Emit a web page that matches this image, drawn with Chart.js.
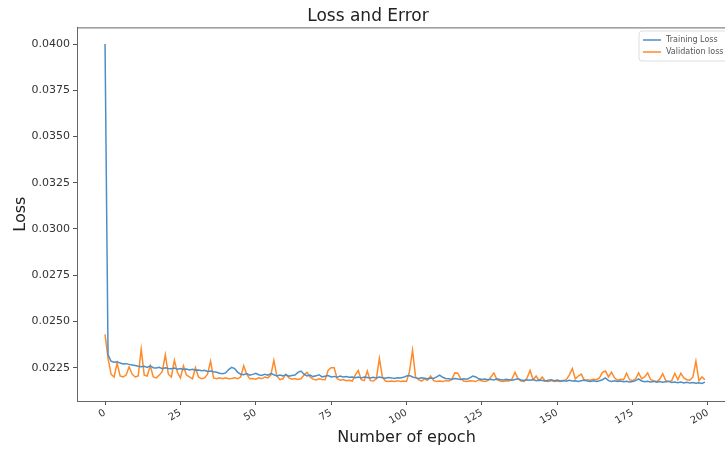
<!DOCTYPE html>
<html>
<head>
<meta charset="utf-8">
<script src="https://cdn.jsdelivr.net/npm/chart.js@4/dist/chart.umd.min.js"></script>
<style>
  body { margin: 0; background: #fff; overflow: hidden; }
  #wrap { width: 745px; height: 449px; }
</style>
</head>
<body>
<div id="wrap"><canvas id="lossChart"></canvas></div>
<script>
// Data
const xTicks = [0, 25, 50, 75, 100, 125, 150, 175, 200];
const yTicks = [0.0225, 0.0250, 0.0275, 0.0300, 0.0325, 0.0350, 0.0375, 0.0400];

const trainingLoss = [
  0.0400, 0.0232, 0.02285, 0.02280, 0.02282, 0.02275, 0.02270, 0.02272, 0.02268, 0.02265,
  0.02262, 0.02258, 0.02255, 0.02258, 0.02252, 0.02260, 0.02250, 0.02248, 0.02252, 0.02245,
  0.02250, 0.02246, 0.02244, 0.02248, 0.02242, 0.02245, 0.02240, 0.02243, 0.02238, 0.02242,
  0.02236, 0.02238, 0.02234, 0.02236, 0.02230, 0.02232, 0.02228, 0.02225, 0.02220, 0.02218,
  0.02222, 0.02240, 0.02252, 0.02245, 0.02225, 0.02215, 0.02212, 0.02218, 0.02210, 0.02214,
  0.02220, 0.02212, 0.02208, 0.02215, 0.02210, 0.02218, 0.02212, 0.02205, 0.02210, 0.02206,
  0.02212, 0.02204, 0.02208, 0.02210, 0.02225, 0.02232, 0.02215, 0.02205, 0.02210, 0.02202,
  0.02206, 0.02212, 0.02200, 0.02204, 0.02208, 0.02200, 0.02203, 0.02198, 0.02205, 0.02200,
  0.02202, 0.02198, 0.02200, 0.02196, 0.02199, 0.02195, 0.02200, 0.02197, 0.02194, 0.02198,
  0.02195, 0.02200, 0.02196, 0.02193, 0.02197, 0.02195, 0.02192, 0.02196, 0.02194, 0.02198,
  0.02205, 0.02208, 0.02200, 0.02195, 0.02192, 0.02196, 0.02193, 0.02190, 0.02194, 0.02192,
  0.02200, 0.02210, 0.02198, 0.02192, 0.02190, 0.02188, 0.02192, 0.02189, 0.02186, 0.02190,
  0.02188, 0.02195, 0.02205, 0.02200, 0.02190, 0.02186, 0.02189, 0.02185, 0.02188, 0.02184,
  0.02190, 0.02186, 0.02183, 0.02188, 0.02185, 0.02182, 0.02186, 0.02190, 0.02184, 0.02181,
  0.02185, 0.02182, 0.02186, 0.02180, 0.02184, 0.02181, 0.02178, 0.02182, 0.02185, 0.02180,
  0.02183, 0.02178, 0.02181, 0.02177, 0.02182, 0.02178, 0.02180, 0.02176, 0.02180, 0.02183,
  0.02178, 0.02175, 0.02179, 0.02176, 0.02180, 0.02185, 0.02195, 0.02180, 0.02176, 0.02179,
  0.02175, 0.02178, 0.02174, 0.02177, 0.02173, 0.02176, 0.02180, 0.02190, 0.02178, 0.02174,
  0.02177, 0.02173, 0.02176, 0.02172, 0.02175, 0.02171, 0.02174, 0.02176, 0.02170, 0.02173,
  0.02169, 0.02172, 0.02168, 0.02171, 0.02168, 0.02170, 0.02166, 0.02169, 0.02165, 0.02172
];

const validationLoss = [
  0.0243, 0.0230, 0.02215, 0.02200, 0.02275, 0.02205, 0.02200, 0.02210, 0.02255, 0.02215,
  0.02200, 0.02205, 0.02350, 0.02210, 0.02205, 0.02260, 0.02200, 0.02195, 0.02210, 0.02230,
  0.02320, 0.02215, 0.02200, 0.02290, 0.02225, 0.02195, 0.02260, 0.02210, 0.02200, 0.02190,
  0.02250, 0.02200, 0.02190, 0.02195, 0.02215, 0.02285, 0.02195, 0.02190, 0.02195, 0.02190,
  0.02195, 0.02190, 0.02192, 0.02195, 0.02190, 0.02200, 0.02260, 0.02215, 0.02190, 0.02192,
  0.02188, 0.02195, 0.02190, 0.02200, 0.02195, 0.02210, 0.02290, 0.02205, 0.02185, 0.02190,
  0.02215, 0.02195, 0.02188, 0.02192, 0.02186, 0.02190, 0.02210, 0.02225, 0.02200, 0.02188,
  0.02184, 0.02190, 0.02186, 0.02185, 0.02235, 0.02250, 0.02250, 0.02190, 0.02182, 0.02186,
  0.02180, 0.02182, 0.02178, 0.02210, 0.02235, 0.02185, 0.02180, 0.02232, 0.02180, 0.02178,
  0.02190, 0.02300, 0.02200, 0.02178, 0.02175, 0.02178, 0.02176, 0.02180, 0.02175, 0.02178,
  0.02176, 0.02230, 0.02345, 0.02200, 0.02185, 0.02178, 0.02190, 0.02182, 0.02205, 0.02180,
  0.02176, 0.02178, 0.02175, 0.02180, 0.02178, 0.02185, 0.02222, 0.02220, 0.02190, 0.02178,
  0.02176, 0.02180, 0.02178, 0.02175, 0.02185, 0.02178, 0.02176, 0.02180, 0.02200, 0.02222,
  0.02185, 0.02178, 0.02176, 0.02180, 0.02178, 0.02190, 0.02225, 0.02190, 0.02178, 0.02176,
  0.02195, 0.02235, 0.02185, 0.02205, 0.02180, 0.02200, 0.02178, 0.02176, 0.02180, 0.02175,
  0.02178, 0.02176, 0.02180, 0.02185, 0.02210, 0.02245, 0.02190, 0.02205, 0.02215, 0.02180,
  0.02185, 0.02182, 0.02188, 0.02185, 0.02195, 0.02225, 0.02232, 0.02200, 0.02225, 0.02195,
  0.02182, 0.02188, 0.02185, 0.02220, 0.02185, 0.02180, 0.02190, 0.02222, 0.02190, 0.02200,
  0.02222, 0.02185, 0.02180, 0.02175, 0.02188, 0.02218, 0.02180, 0.02175, 0.02180, 0.02220,
  0.02185, 0.02220, 0.02195, 0.02185, 0.02182, 0.02200, 0.02285, 0.02180, 0.02200, 0.02185
];

const epochs = trainingLoss.map((_, i) => i);

const toPoints = arr => arr.map((v, i) => ({ x: epochs[i], y: v }));

// Frame (matplotlib-style spines) and the legend box inside the plot
const framePlugin = {
  id: 'frame',
  afterDraw(chart) {
    const { ctx, chartArea: a } = chart;
    ctx.save();
    ctx.strokeStyle = '#666';
    ctx.lineWidth = 1;
    ctx.strokeRect(a.left + 0.5, a.top + 0.5, a.right - a.left, a.bottom - a.top);

    // legend
    const bx = 639, by = 31;
    ctx.fillStyle = 'rgba(255,255,255,0.9)';
    ctx.strokeStyle = '#ddd';
    ctx.beginPath();
    ctx.roundRect(bx, by, 100, 30, 3);
    ctx.fill();
    ctx.stroke();
    ctx.font = '8px "DejaVu Sans"';
    ctx.textBaseline = 'middle';
    chart.data.datasets.forEach((ds, i) => {
      const y = by + 9 + i * 12;
      ctx.strokeStyle = ds.borderColor;
      ctx.lineWidth = 1.5;
      ctx.beginPath();
      ctx.moveTo(bx + 4, y);
      ctx.lineTo(bx + 22, y);
      ctx.stroke();
      ctx.fillStyle = '#555';
      ctx.fillText(ds.label, bx + 27, y);
    });
    ctx.restore();
  }
};

const chartData = {
  datasets: [
    {
      label: 'Training Loss',
      data: toPoints(trainingLoss),
      borderColor: '#4a8fc8',
      backgroundColor: '#4a8fc8',
      borderWidth: 1.5,
      pointRadius: 0,
      tension: 0
    },
    {
      label: 'Validation loss',
      data: toPoints(validationLoss),
      borderColor: '#ff8a2a',
      backgroundColor: '#ff8a2a',
      borderWidth: 1.5,
      pointRadius: 0,
      tension: 0
    }
  ]
};

const chartConfig = {
  type: 'line',
  data: chartData,
  plugins: [framePlugin],
  options: {
    responsive: true,
    maintainAspectRatio: false,
    animation: false,
    layout: { padding: { left: 0, right: 9, top: 0, bottom: 0 } },
    plugins: {
      legend: { display: false },
      tooltip: { enabled: false },
      title: {
        display: true,
        text: 'Loss and Error',
        color: '#222',
        font: { family: 'DejaVu Sans', size: 17, weight: 'normal' },
        padding: { top: 6, bottom: 1 }
      }
    },
    scales: {
      x: {
        type: 'linear',
        min: -9.3,
        max: 209.3,
        afterBuildTicks: axis => { axis.ticks = xTicks.map(v => ({ value: v })); },
        afterFit: scale => { scale.height = 48; },
        grid: { display: true, drawOnChartArea: false, drawTicks: true, tickLength: 4, color: '#555' },
        border: { display: true, color: '#666' },
        ticks: {
          autoSkip: false,
          minRotation: 30,
          maxRotation: 30,
          padding: 2,
          color: '#333',
          font: { family: 'DejaVu Sans', size: 10 }
        },
        title: {
          display: true,
          text: 'Number of epoch',
          color: '#222',
          font: { family: 'DejaVu Sans', size: 16 },
          padding: { top: 0, bottom: 2 }
        }
      },
      y: {
        min: 0.0207,
        max: 0.0409,
        afterBuildTicks: axis => { axis.ticks = yTicks.map(v => ({ value: v })); },
        afterFit: scale => { scale.width = 77; },
        grid: { display: true, drawOnChartArea: false, drawTicks: true, tickLength: 4, color: '#555' },
        border: { display: true, color: '#666' },
        ticks: {
          padding: 3,
          color: '#333',
          font: { family: 'DejaVu Sans', size: 11 },
          callback: v => v.toFixed(4)
        },
        title: {
          display: true,
          text: 'Loss',
          color: '#222',
          font: { family: 'DejaVu Sans', size: 16 },
          padding: { top: 11, bottom: 0 }
        }
      }
    }
  }
};

const ctx = document.getElementById('lossChart').getContext('2d');
new Chart(ctx, chartConfig);
</script>
</body>
</html>
